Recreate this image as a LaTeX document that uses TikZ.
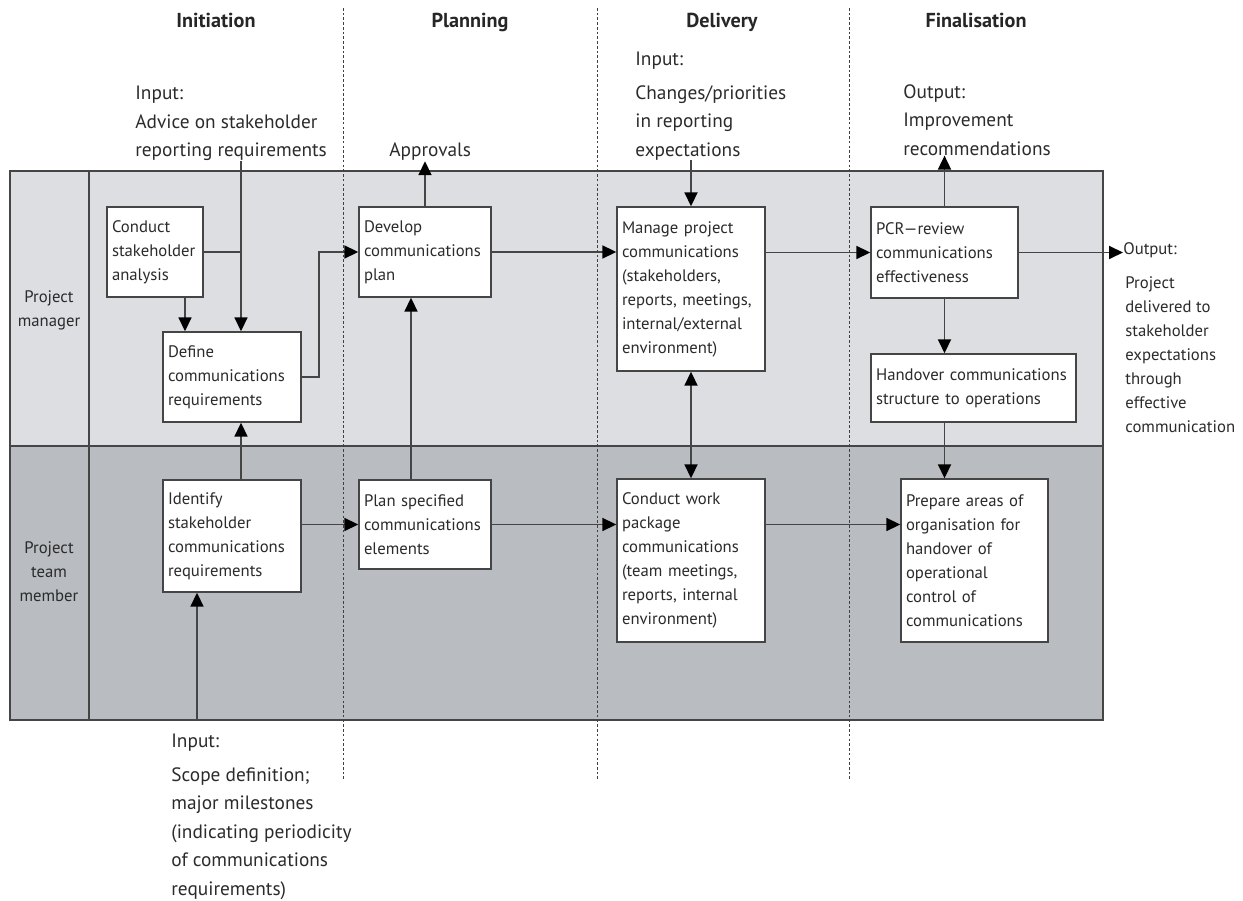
\documentclass[tikz,border=0pt]{standalone}
\usepackage{fontspec}
\setmainfont{PT Sans}
\usetikzlibrary{arrows.meta}

\definecolor{toprow}{HTML}{DCDEE1}
\definecolor{botrow}{HTML}{B9BCC0}
\definecolor{linegray}{HTML}{454545}
\definecolor{txtgray}{HTML}{2B2B2B}

\newcommand{\boxfont}{\fontsize{9.5}{13.66}\selectfont}
\newcommand{\notefont}{\fontsize{11}{16.2}\selectfont}
\newcommand{\phasefont}{\fontsize{11.5}{14}\selectfont\bfseries}

\begin{document}
\begin{tikzpicture}[x=0.02cm, y=-0.02cm,
	box/.style={draw=linegray, line width=0.8pt, fill=white, text=txtgray, align=left, inner xsep=0.1cm, inner ysep=0pt, font=\boxfont},
	note/.style={text=txtgray, align=left, inner sep=0pt, anchor=north west, font=\notefont},
	phase/.style={text=black!85, anchor=base, font=\phasefont},
	lane/.style={text=txtgray, align=center, font=\boxfont},
	link/.style={draw=linegray, line width=1pt},
	arr/.style={link, -{Triangle[length=0.28cm, width=0.26cm, color=black]}},
	arr2/.style={link, {Triangle[length=0.28cm, width=0.26cm, color=black]}-{Triangle[length=0.28cm, width=0.26cm, color=black]}},
	divider/.style={draw=black!75, line width=0.5pt, dash pattern=on 1.5pt off 1.2pt}
]
	\useasboundingbox (0,0) rectangle (1243,901);

	% swimlanes
	\fill[toprow] (10,171) rectangle (1103,446);
	\fill[botrow] (10,446) rectangle (1103,720);
	\draw[link] (10,171) rectangle (1103,720);
	\draw[link] (89,171) -- (89,720);
	\draw[link] (10,446) -- (1103,446);

	\foreach \x in {343,597,849}
		\draw[divider] (\x,8) -- (\x,780);

	% phases
	\node[phase] (init) at (216,28) {Initiation};
	\node[phase] (plan) at (470,28) {Planning};
	\node[phase] (deliv) at (722,28) {Delivery};
	\node[phase] (final) at (976,28) {Finalisation};

	\node[lane] (pm) at (49,310) {Project\\ manager};
	\node[lane] (ptm) at (49,572) {Project\\ team\\ member};

	% inputs and outputs
	\node[note] (advin) at (135,86) {Input:\\ Advice on stakeholder\\ reporting requirements};
	\node[note, anchor=base west] (appr) at (389,157) {Approvals};
	\node[note] (chgin) at (635,52) {Input:\\[0.1cm] Changes/priorities\\ in reporting\\ expectations};
	\node[note] (impout) at (903,84) {Output:\\ Improvement\\ recommendations};
	\node[note] (scopein) at (171,734) {Input:\\[0.1cm] Scope definition;\\ major milestones\\ (indicating periodicity\\ of communications\\ requirements)};
	\node[note, font=\boxfont, anchor=west] (outlbl) at (1123,250) {Output:};
	\node[note, font=\boxfont] (prjtxt) at (1125,276) {Project\\ delivered to\\ stakeholder\\ expectations\\ through\\ effective\\ communication};

	% activities
	\node[box, text width=1.72cm, minimum height=1.80cm] (csa) at (155,252) {Conduct\\ stakeholder\\ analysis};
	\node[box, text width=2.56cm, minimum height=1.80cm] (dcr) at (232,377) {Define\\ communications\\ requirements};
	\node[box, text width=2.56cm, minimum height=2.24cm] (iscr) at (232,536) {Identify\\ stakeholder\\ communications\\ requirements};
	\node[box, text width=2.44cm, minimum height=1.80cm] (dcp) at (425,252) {Develop\\ communications\\ plan};
	\node[box, text width=2.44cm, minimum height=1.78cm] (psce) at (425,524.5) {Plan specified\\ communications\\ elements};
	\node[box, text width=2.76cm, minimum height=3.28cm] (mpc) at (691,289) {Manage project\\ communications\\ (stakeholders,\\ reports, meetings,\\ internal/external\\ environment)};
	\node[box, text width=2.76cm, minimum height=3.26cm] (cwpc) at (691,560.5) {Conduct work\\ package\\ communications\\ (team meetings,\\ reports, internal\\ environment)};
	\node[box, text width=2.74cm, minimum height=1.82cm] (pcr) at (944.5,252.5) {PCR---review\\ communications\\ effectiveness};
	\node[box, text width=3.90cm, minimum height=1.36cm] (hco) at (973.5,388) {Handover communications\\ structure to operations};
	\node[box, text width=2.74cm, minimum height=3.26cm] (pao) at (974.5,560.5) {Prepare areas of\\ organisation for\\ handover of\\ operational\\ control of\\ communications};

	\coordinate (ladv) at (241,0);
	\coordinate (lcsa) at (185,0);
	\coordinate (lbend) at (319,0);
	\coordinate (lplan) at (411,0);
	\coordinate (lscope) at (197,720);

	% flows
	\draw[link] (csa.east) -- (csa.east -| ladv);
	\draw[arr] (advin.south -| ladv) -- (dcr.north -| ladv);
	\draw[arr] (csa.south -| lcsa) -- (dcr.north -| lcsa);
	\draw[arr] (dcr.east) -- (dcr.east -| lbend) |- (dcp.west);
	\draw[arr] (iscr.north -| ladv) -- (dcr.south -| ladv);
	\draw[arr] (lscope) -- (iscr.south -| lscope);
	\draw[arr] (psce.west -| iscr.east) -- (psce.west);
	\draw[arr] (psce.north -| lplan) -- (dcp.south -| lplan);
	\draw[arr] (dcp.north) -- (dcp.north |- appr.south);
	\draw[arr] (dcp.east) -- (dcp.east -| mpc.west);
	\draw[arr] (chgin.south -| mpc.north) -- (mpc.north);
	\draw[arr2] (mpc.south) -- (cwpc.north);
	\draw[arr] (psce.east) -- (psce.east -| cwpc.west);
	\draw[arr] (pcr.west -| mpc.east) -- (pcr.west);
	\draw[arr] (psce.east -| cwpc.east) -- (psce.east -| pao.west);
	\draw[arr] (pcr.north) -- (pcr.north |- impout.south);
	\draw[arr] (pcr.east) -- (pcr.east -| outlbl.west);
	\draw[arr] (pcr.south) -- (pcr.south |- hco.north);
	\draw[arr] (hco.south -| pcr.south) -- (pao.north -| pcr.south);
\end{tikzpicture}
\end{document}
